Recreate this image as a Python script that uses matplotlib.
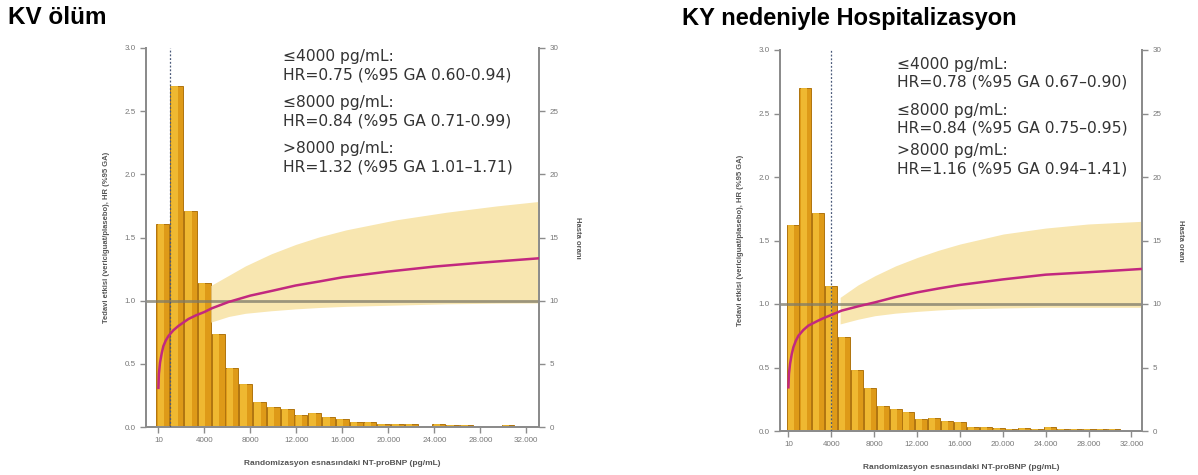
import numpy as np
import matplotlib.pyplot as plt
from matplotlib import rc

rc('font', family=['Liberation Sans', 'DejaVu Sans'])

BAR_COLOR = "#DE9A18"
BAR_LIGHT = "#F3BE36"
BAR_EDGE = "#B0740E"
BAND_COLOR = "#F8E6B0"
CURVE_COLOR = "#C2287F"
SPINE_COLOR = "#8c8c8c"
TEXT_COLOR = "#333333"

# histogram of patients (percent, right axis), bins of 1200 pg/mL
bin_centers = [400 + 1200 * i for i in range(26)]
pct_kv = [16.1, 27.0, 17.1, 11.4, 7.4, 4.65, 3.4, 2.0, 1.6, 1.45, 0.95, 1.08, 0.77,
          0.66, 0.37, 0.4, 0.21, 0.2, 0.2, 0.1, 0.25, 0.15, 0.13, 0.1, 0.08, 0.18]
pct_ky = [16.2, 27.0, 17.2, 11.4, 7.4, 4.8, 3.4, 2.0, 1.7, 1.5, 0.92, 1.02, 0.81,
          0.68, 0.34, 0.34, 0.24, 0.18, 0.2, 0.12, 0.29, 0.13, 0.13, 0.12, 0.15, 0.15]

# HR curve
kv_x = [10, 50, 150, 300, 440, 650, 880, 1300, 1750, 2620, 3300, 4000, 4660, 6120, 8000,
        10000, 11940, 14000, 16020, 19950, 24030, 27960, 33050]
kv_hr = [0.31, 0.42, 0.51, 0.585, 0.64, 0.685, 0.72, 0.765, 0.80, 0.855, 0.885, 0.91, 0.94,
         0.99, 1.04, 1.08, 1.12, 1.152, 1.185, 1.23, 1.27, 1.30, 1.335]
kv_band_x = [4570, 6120, 7570, 9800, 11940, 14000, 16310, 20680, 25050, 29420, 33050]
kv_lo = [0.83, 0.875, 0.90, 0.92, 0.935, 0.946, 0.955, 0.965, 0.975, 0.98, 0.982]
kv_hi = [1.12, 1.20, 1.275, 1.37, 1.445, 1.505, 1.56, 1.64, 1.70, 1.75, 1.785]

ky_x = [10, 60, 165, 320, 476, 700, 942, 1400, 1874, 2806, 3400, 4040, 4980, 6530, 8080,
        10000, 12050, 14000, 16000, 20040, 24000, 27960, 32950]
ky_hr = [0.344, 0.45, 0.53, 0.605, 0.66, 0.71, 0.75, 0.795, 0.83, 0.87, 0.893, 0.915, 0.948,
         0.982, 1.013, 1.055, 1.092, 1.122, 1.15, 1.194, 1.231, 1.25, 1.276]
ky_band_x = [4830, 6500, 8080, 10000, 12050, 14000, 16000, 20040, 24000, 27960, 32950]
ky_lo = [0.843, 0.88, 0.908, 0.928, 0.942, 0.953, 0.961, 0.969, 0.974, 0.974, 0.974]
ky_hi = [1.052, 1.15, 1.223, 1.30, 1.367, 1.423, 1.472, 1.551, 1.598, 1.63, 1.651]

x_ticks = [10, 4000, 8000, 12000, 16000, 20000, 24000, 28000, 32000]
x_ticklabels = ["10", "4000", "8000", "12.000", "16.000", "20.000", "24.000", "28.000", "32.000"]

kv_notes = ["≤4000 pg/mL:", "HR=0.75 (%95 GA 0.60-0.94)",
            "≤8000 pg/mL:", "HR=0.84 (%95 GA 0.71-0.99)",
            ">8000 pg/mL:", "HR=1.32 (%95 GA 1.01–1.71)"]
ky_notes = ["≤4000 pg/mL:", "HR=0.78 (%95 GA 0.67–0.90)",
            "≤8000 pg/mL:", "HR=0.84 (%95 GA 0.75–0.95)",
            ">8000 pg/mL:", "HR=1.16 (%95 GA 0.94–1.41)"]

W, H = 1198, 475
fig = plt.figure(figsize=(W / 100, H / 100), dpi=100)


def panel(rect, pct, cx, chr_, bx, blo, bhi, vline, xlim):
  ax = fig.add_axes(rect)
  ax2 = ax.twinx()
  ax2.bar(bin_centers, pct, width=1120, color=BAR_COLOR, edgecolor=BAR_EDGE, linewidth=0.7)
  # lighter left part of each bar, like the shading in the original
  ax2.bar(np.array(bin_centers) - 180, pct, width=560, color=BAR_LIGHT, linewidth=0, alpha=0.85)
  ax2.set_ylim(0, 30)
  ax.set_zorder(ax2.get_zorder() + 1)
  ax.patch.set_visible(False)

  ax.fill_between(bx, blo, bhi, color=BAND_COLOR, lw=0, zorder=1)
  ax.axhline(1.0, color="#7d7a6a", lw=2, alpha=0.75, zorder=2)
  ax.axvline(vline, color="#4a5a7a", lw=0.9, ls=(0, (1.5, 1.5)), zorder=3)
  ax.plot(cx, chr_, color=CURVE_COLOR, lw=1.8, zorder=4)

  ax.set_xlim(*xlim)
  ax.set_ylim(0, 3)
  ax.set_yticks(np.arange(0, 3.01, 0.5))
  ax.set_yticklabels([f"{v:.1f}" for v in np.arange(0, 3.01, 0.5)])
  ax2.set_yticks(range(0, 31, 5))
  ax.set_xticks(x_ticks)
  ax.set_xticklabels(x_ticklabels)

  for a in (ax, ax2):
    a.spines["top"].set_visible(False)
    for s in ("left", "right", "bottom"):
      a.spines[s].set_color(SPINE_COLOR)
      a.spines[s].set_linewidth(1.4)
    a.tick_params(colors=SPINE_COLOR, labelcolor="#777777", labelsize=5.8, length=4, width=1)
  ax.set_xlabel("Randomizasyon esnasındaki NT-proBNP (pg/mL)", fontsize=6, color="#555555",
                fontweight="bold", labelpad=11)
  ax.set_ylabel("Tedavi etkisi (vericiguat/plasebo), HR (%95 GA)", fontsize=5.5,
                color="#555555", fontweight="bold", labelpad=10)
  ax2.set_ylabel("Hasta oranı", fontsize=5.5, color="#555555", fontweight="bold",
                 rotation=270, labelpad=16)
  return ax


panel([146 / W, 1 - 427 / H, 393 / W, 379 / H], pct_kv, kv_x, kv_hr,
      kv_band_x, kv_lo, kv_hi, 1000, (-1070, 33100))
panel([780 / W, 1 - 431 / H, 362 / W, 381 / H], pct_ky, ky_x, ky_hr,
      ky_band_x, ky_lo, ky_hi, 4000, (-774, 32980))

fig.text(8 / W, 1 - 18 / H, "KV ölüm", fontsize=17.5, fontweight="bold", va="center", ha="left")
fig.text(849 / W, 1 - 18 / H, "KY nedeniyle Hospitalizasyon", fontsize=17,
         fontweight="bold", va="center", ha="center")

for x0, ys, notes in [(283, [57, 75, 103, 121, 149, 167], kv_notes),
                      (897, [65, 82, 111, 128, 151, 169], ky_notes)]:
  for y, t in zip(ys, notes):
    fig.text(x0 / W, 1 - y / H, t, fontsize=11.2, color=TEXT_COLOR, va="center", ha="left",
             family="DejaVu Sans")

fig.savefig("out.png", dpi=100)
